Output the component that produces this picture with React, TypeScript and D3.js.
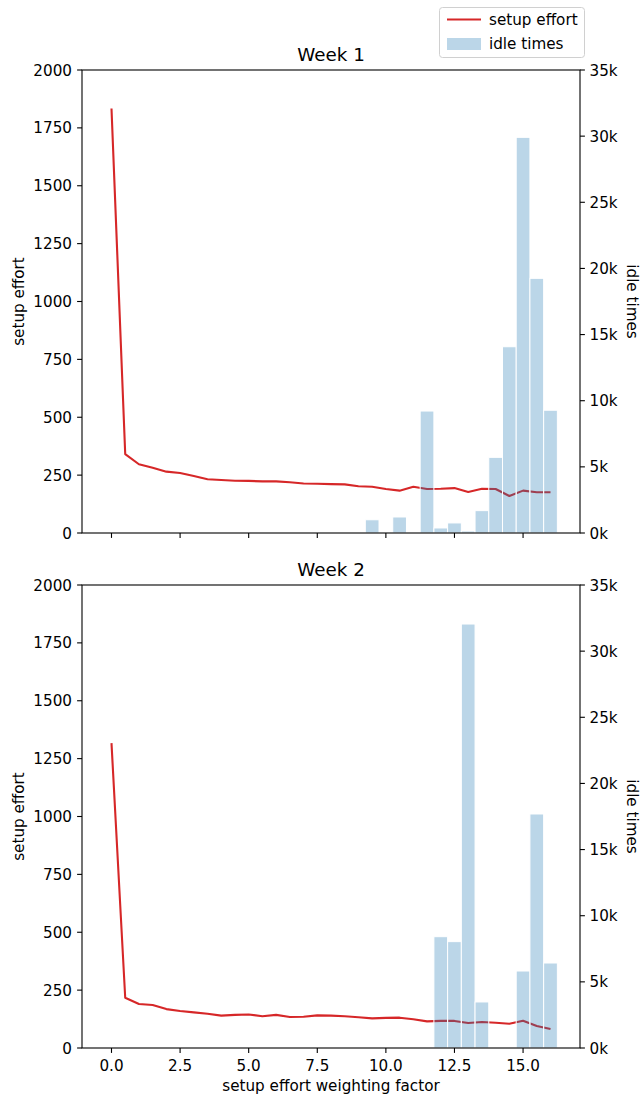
import * as d3 from 'd3';
import React, { useEffect, useRef } from 'react';

// weighting factors on the x axis
const factors = [0, 0.5, 1, 1.5, 2, 2.5, 3, 3.5, 4, 4.5, 5, 5.5, 6, 6.5, 7, 7.5, 8, 8.5, 9, 9.5, 10, 10.5, 11, 11.5, 12, 12.5, 13, 13.5, 14, 14.5, 15, 15.5, 16];

const setupWeek1 = [1834, 341, 297, 282, 265, 259, 246, 232, 229, 226, 225, 223, 223, 219, 214, 213, 211, 210, 202, 200, 190, 183, 200, 190, 191, 194, 177, 191, 190, 160, 183, 176, 176];
const idleWeek1 = [0, 0, 0, 0, 0, 0, 0, 0, 0, 0, 0, 0, 0, 0, 0, 0, 0, 0, 0, 1000, 0, 1210, 0, 9220, 380, 760, 150, 1690, 5720, 14080, 29910, 19250, 9280];

const setupWeek2 = [1317, 217, 190, 186, 168, 160, 154, 148, 140, 143, 145, 137, 143, 134, 135, 141, 140, 137, 133, 128, 130, 131, 124, 115, 117, 117, 108, 112, 109, 105, 118, 95, 82];
const idleWeek2 = [0, 0, 0, 0, 0, 0, 0, 0, 0, 0, 0, 0, 0, 0, 0, 0, 0, 0, 0, 0, 0, 0, 0, 0, 8415, 8040, 32050, 3480, 0, 0, 5820, 17690, 6425];

const xTicks = [0, 2.5, 5, 7.5, 10, 12.5, 15];
const leftTicks = [0, 250, 500, 750, 1000, 1250, 1500, 1750, 2000];
const rightTicks = [0, 5000, 10000, 15000, 20000, 25000, 30000, 35000];

const panels = [
    { title: 'Week 1', setup: setupWeek1, idle: idleWeek1 },
    { title: 'Week 2', setup: setupWeek2, idle: idleWeek2 },
];

export default () => {
    const ref = useRef<any>();

    useEffect(() => {
        const width = 642;
        const height = 1096;
        const left = 82;
        const right = 580;
        const panelTops = [70, 585];
        const panelHeight = 463;
        const font = 'DejaVu Sans, sans-serif';
        const fs = 15.2;
        const red = '#d62728';
        const blue = '#1f77b4';

        const svg = d3.select<any, any>(ref.current)
            .attr('width', width)
            .attr('height', height)
            .style('font-family', font);
        svg.selectAll('*').remove();

        const barWidth = 0.5;
        const x = d3.scaleLinear()
            .domain([-0.25 - 0.825, 16.25 + 0.825])
            .range([left, right]);

        panels.forEach((p, idx) => {
            const top = panelTops[idx];
            const bottom = top + panelHeight;
            const yLeft = d3.scaleLinear().domain([0, 2000]).range([bottom, top]);
            const yRight = d3.scaleLinear().domain([0, 35000]).range([bottom, top]);
            const g = svg.append('g');

            // setup effort line (under the bars)
            const line = d3.line<number>()
                .x((d, i) => x(factors[i]))
                .y(d => yLeft(d));
            g.append('path')
                .datum(p.setup)
                .attr('d', line)
                .attr('fill', 'none')
                .attr('stroke', red)
                .attr('stroke-width', 2.1)
                .attr('stroke-linejoin', 'round');

            // idle time bars on the twin axis
            g.selectAll('.bar')
                .data(p.idle)
                .join('rect')
                .attr('class', 'bar')
                .attr('x', (d, i) => x(factors[i] - barWidth / 2))
                .attr('width', x(barWidth) - x(0))
                .attr('y', d => yRight(d))
                .attr('height', d => yRight(0) - yRight(d))
                .attr('fill', blue)
                .attr('fill-opacity', 0.3)
                .attr('stroke', 'white')
                .attr('stroke-width', d => (d > 0 ? 1 : 0));

            // spines
            g.append('rect')
                .attr('x', left)
                .attr('y', top)
                .attr('width', right - left)
                .attr('height', panelHeight)
                .attr('fill', 'none')
                .attr('stroke', 'black')
                .attr('stroke-width', 1.1);

            // x ticks
            const xg = g.append('g');
            xTicks.forEach(t => {
                xg.append('line')
                    .attr('x1', x(t)).attr('x2', x(t))
                    .attr('y1', bottom).attr('y2', bottom + 4.9)
                    .attr('stroke', 'black').attr('stroke-width', 1.1);
                if (idx === 1) {
                    xg.append('text')
                        .attr('x', x(t))
                        .attr('y', bottom + 23)
                        .attr('text-anchor', 'middle')
                        .attr('font-size', fs)
                        .text(t.toFixed(1));
                }
            });

            // left ticks
            leftTicks.forEach(t => {
                g.append('line')
                    .attr('x1', left - 4.9).attr('x2', left)
                    .attr('y1', yLeft(t)).attr('y2', yLeft(t))
                    .attr('stroke', 'black').attr('stroke-width', 1.1);
                g.append('text')
                    .attr('x', left - 10)
                    .attr('y', yLeft(t) + 5.5)
                    .attr('text-anchor', 'end')
                    .attr('font-size', fs)
                    .text(t);
            });

            // right ticks
            rightTicks.forEach(t => {
                g.append('line')
                    .attr('x1', right).attr('x2', right + 4.9)
                    .attr('y1', yRight(t)).attr('y2', yRight(t))
                    .attr('stroke', 'black').attr('stroke-width', 1.1);
                g.append('text')
                    .attr('x', right + 9.5)
                    .attr('y', yRight(t) + 5.5)
                    .attr('text-anchor', 'start')
                    .attr('font-size', fs)
                    .text(`${t / 1000}k`);
            });

            // axis labels
            g.append('text')
                .attr('transform', `translate(24, ${(top + bottom) / 2}) rotate(-90)`)
                .attr('text-anchor', 'middle')
                .attr('font-size', fs)
                .text('setup effort');
            g.append('text')
                .attr('transform', `translate(627, ${(top + bottom) / 2}) rotate(90)`)
                .attr('text-anchor', 'middle')
                .attr('font-size', fs)
                .text('idle times');

            // title
            g.append('text')
                .attr('x', (left + right) / 2)
                .attr('y', top - 9)
                .attr('text-anchor', 'middle')
                .attr('font-size', 18.3)
                .text(p.title);
        });

        svg.append('text')
            .attr('x', (left + right) / 2)
            .attr('y', 1091)
            .attr('text-anchor', 'middle')
            .attr('font-size', fs)
            .text('setup effort weighting factor');

        // legend
        const lg = svg.append('g').attr('transform', 'translate(439, 7)');
        lg.append('rect')
            .attr('x', 0.5).attr('y', 0.5)
            .attr('width', 145).attr('height', 50)
            .attr('rx', 3)
            .attr('fill', 'white').attr('fill-opacity', 0.8)
            .attr('stroke', '#d0d0d0').attr('stroke-width', 1);
        lg.append('line')
            .attr('x1', 8).attr('x2', 42)
            .attr('y1', 12.5).attr('y2', 12.5)
            .attr('stroke', red).attr('stroke-width', 2.1);
        lg.append('text')
            .attr('x', 50).attr('y', 18)
            .attr('font-size', fs)
            .text('setup effort');
        lg.append('rect')
            .attr('x', 8).attr('y', 31)
            .attr('width', 34).attr('height', 12)
            .attr('fill', blue).attr('fill-opacity', 0.3);
        lg.append('text')
            .attr('x', 50).attr('y', 42)
            .attr('font-size', fs)
            .text('idle times');
    }, []);

    return (
        <svg ref={ref} style={{ position: 'absolute', left: 0, top: 0 }}></svg>
    );
};
